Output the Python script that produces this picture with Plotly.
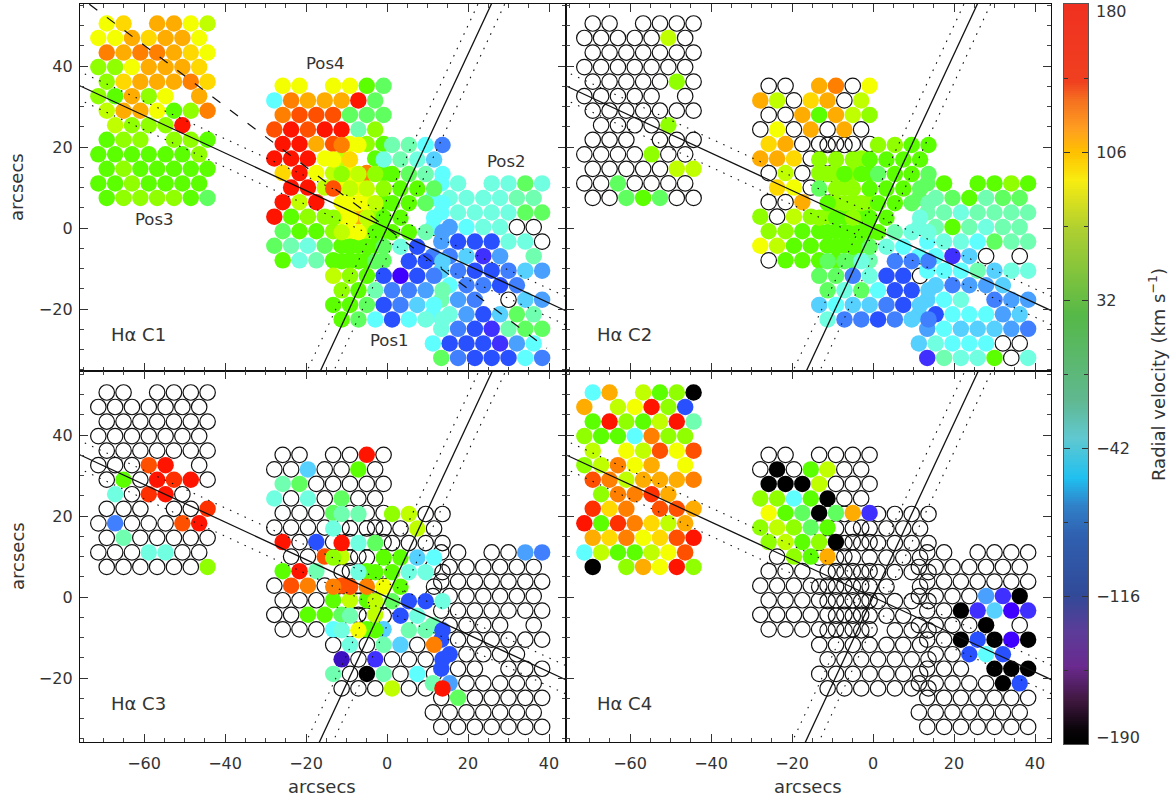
import plotly.graph_objects as go

# velocity classes (km/s)
VEL = dict(K=-190, p=-150, P=-140, V=-125, D=-105, b=-85, B=-70, c=-55, C=-38, m=-20, M=0,
           g=18, G=42, l=65, L=82, y=100, Y=108, A=120, o=135, O=150, r=160, R=172)

OPEN = ["......", ".......", ".......", ".......", ".......", "......", ".......",
        ".....", "......", ".......", ".......", ".......", "......."]

C1_POS3 = ["yYAAyL", "yyAYAAy", "oAooAYy", "llyAAAY", "lYAAAoY", "lGAlyA", "LAAyGlo",
           "LlllR", "GllllG", "GGGGGGl", "GlGGGGG", "GGlGGGG", "GllllGg"]
C1_POS4 = ["yyyyGg", "CoAAARg", "oOOOggg", "ORORRMl", "RRAOylG", "RRRyLG", "YRyLyoG",
           "RRLyy", "RLRyyG", "RGllyAl", "gGGlyLG", "gMmgGGG", "GmMGGGg"]
C1_POS2 = ["Cmmmgm", "CmmmmMM", "Cmmmmgg", "CBCmm..", "BDDDmm.", "bbcVBM", "cbDDbcB",
           "CbbDb", "MBb.cB", "CmBDcgM", "mbDVMgg", "CDDDVBC", "gbDDDCb"]
C1_POS1 = ["oyMMCb", "yY_mMmc", "lLlGgMC", "OLLlGGg", "yyLGGgC", "lyLGGC", "LyGGGMB",
           "GGgmD", "GGgDDc", "LlGDPDb", "lGMbbBM", "GGgDbcC", "GgCDCmm"]

C2_POS3 = ["......", ".....L.", ".......", ".......", ".....l.", "......", ".......",
           "....l", "......", "....l..", ".....LL", "..g....", "..gGg.."]
C2_POS4 = ["..Ao.y", "AL.YA.L", "..AGALl", ".y.A.A.", "YA.....", "AAY..l", ".L.lllG",
           "Yy..l", "..Alll", "l.LllGG", "llGGGGG", "yLGGGGG", ".GGGGgM"]
C2_POS2 = ["gGGGlG", "gMgGMgg", "MMmMMMM", "mMGMmMM", "CmmCgMM", "CCVc..", "CCCMcmm",
           "cbBBc", "cCmbBB", "cDCCCBc", "BCcccBb", "cmCCC..", "VMmmG.m"]
C2_POS1 = ["..llGG", "lllGGGG", "lGGgGGg", "gllGGGg", "GllGGgM", "lGlGGm", "GGGGMmm",
           "GGgmC", "ggmbbb", "ggbmDD.", "gmgCDDc", "cCccbDc", "mbbDbcb"]

C3_POS3 = ["......", ".......", ".......", ".......", ".......", "...OR.", ".G.RrR.",
           "m.rR.", ".....r", ".b...OR", ".M.....", "...mm..", "......l"]
C3_POS4 = ["....R.", "..c..G.", "Mg.....", "m.m.g..", "...g...", "......", "R.D....",
           "..OL.", "GRM.G.", ".Oo.O..", "...GLG.", "..GGg.L", "...C.Gc"]
C3_POS2 = ["....Bb", ".......", ".......", ".......", ".......", "M.....", "D......",
           "D....", "D.....", "MB.....", ".g.....", ".......", "......."]
C3_POS1 = ["MMlL..", "m....L.", "Rmg....", "l..GGcC", ".mGGmm.", "oOoyG.", "..LgDDm",
           "M..Dm", "myGMMD", ".m.Mc.o", "p.V...D", "M.KM.C.", "...L..R"]

C4_POS3 = ["CALGlK", "A_LyRlD", "GRlGLRM", "lGGColl", "L_yLOyO", "lLoyAy", "OoLAAAo",
           "loorA", "rYoOOA", "RGroYLA", "AYoyYOR", "CLGGLyO", "K_lAyRl"]
C4_POS4 = ["......", ".K.GL..", "KKKL...", "llCGK..", "yGgKgAV", "lLlgG.", "lLGlK..",
           ".lGA.", "......", ".......", ".......", ".......", "......."]
C4_POS2 = ["......", ".......", ".......", "....BVK", "..KVcPV", "....K.", "..KDKPK",
           "..DCD", "...KKK", ".....KD", ".......", ".......", "......."]
C4_POS1 = OPEN

PANELS = [("C1", C1_POS3, C1_POS4, C1_POS2, C1_POS1),
          ("C2", C2_POS3, C2_POS4, C2_POS2, C2_POS1),
          ("C3", C3_POS3, C3_POS4, C3_POS2, C3_POS1),
          ("C4", C4_POS3, C4_POS4, C4_POS2, C4_POS1)]

# instrument: fibre offsets (in units of the fibre pitch) for each of the 13 rows
FULL_A = [0, 1, 2, 3, 4, 5, 6]
FULL_B = [-.5, .5, 1.5, 2.5, 3.5, 4.5, 5.5]
ROW_COLS = [[0, 1, 3, 4, 5, 6], FULL_B, FULL_A, FULL_B, FULL_A,
            [-.5, .5, 1.5, 2.5, 3.5, 5.5], FULL_A, [.5, 1.5, 2.5, 3.5, 4.5],
            [0, 1, 2, 4, 5, 6], FULL_B, FULL_A, FULL_B, FULL_A]
PITCH_X, PITCH_Y = 4.15, 3.59
# pointing origins in arcsec, order as in the panel tuples (Pos3, Pos4, Pos2, Pos1)
ORIGINS = [(-69.2, 50.5), (-25.75, 35.1), (13.4, 11.0), (-11.2, 20.5)]

XTICKS = [-60, -40, -20, 0, 20, 40]
XLABELS = ["\u221260", "\u221240", "\u221220", "0", "20", "40"]
YTICKS = [-20, 0, 20, 40]
YLABELS = ["\u221220", "0", "20", "40"]
CBAR_TICKS = [106, 32, -42, -116]
CBAR_LABELS = ["106", "32", "\u221242", "\u2212116"]
VMIN, VMAX = -190, 180

# slit / axis lines through the nucleus
SLOPE_A, OFF_A = 2.146, 3.3      # steep line, dotted horizontal offset
SLOPE_B, OFF_B = -0.463, 3.5     # shallow line, dotted vertical offset
SLOPE_C = -0.752                 # dashed line, first panel only
DASHED_X = [-73.5, 39.5]

BRIGHT = [(-190, "#000000"), (-150, "#3a10c0"), (-140, "#4000ff"), (-125, "#4030ff"), (-105, "#2850ff"),
          (-85, "#4080ff"), (-70, "#4aa0ff"), (-55, "#55d0ff"), (-38, "#60ffff"), (-20, "#70ffe0"),
          (0, "#70ffb0"), (18, "#60ff60"), (42, "#5cff00"), (65, "#90ff00"), (82, "#c0ff00"),
          (100, "#f4ff00"), (108, "#ffd800"), (120, "#ffac00"), (135, "#ff8000"), (150, "#ff5000"),
          (160, "#ff3000"), (172, "#ff1400"), (180, "#ff1400")]
MUTED = [(-190, "#000000"), (-183, "#080408"), (-168, "#401840"), (-151, "#6a2a90"), (-134, "#5c3c98"),
         (-115, "#304a98"), (-86, "#3060b0"), (-71, "#3080c8"), (-57, "#20c0f0"), (-37, "#60c8d0"),
         (-18, "#60b890"), (24, "#55b848"), (68, "#b0d030"), (92, "#f8ec10"), (106, "#ffc000"),
         (117, "#ffa020"), (132, "#f57020"), (141, "#f04020"), (180, "#f03020")]


def scale(stops):
    return [[(v - VMIN) / (VMAX - VMIN), c] for v, c in stops]


W, H = 1175, 802
FONT = dict(family="DejaVu Sans, Open Sans, sans-serif", size=16, color="#333333")
FONT_TITLE = dict(FONT, size=18)
fig = go.Figure()

COLS = [(80, 566, 387), (566, 1051, 873)]
ROWS = [(4, 371, 228), (371, 742, 597)]
PX = 4.05
layout = {}
ann = []

for idx, (name, *pointings) in enumerate(PANELS):
    cl, cr, x0 = COLS[idx % 2]
    rt, rb, y0 = ROWS[idx // 2]
    xa, ya = f"x{idx + 1}", f"y{idx + 1}"
    base = dict(showgrid=False, zeroline=False, showline=True, linecolor="#111111", linewidth=1.4,
                mirror="allticks", ticks="inside", ticklen=8, tickwidth=1, tickcolor="#333333",
                minor=dict(dtick=5, ticks="inside", ticklen=4, tickwidth=1, tickcolor="#444444",
                           showgrid=False, tick0=0),
                tickfont=FONT)
    layout[f"xaxis{idx + 1}"] = dict(base, domain=[cl / W, cr / W], range=[(cl - x0) / PX, (cr - x0) / PX],
                                     anchor=ya, tickmode="array", tickvals=XTICKS, ticklabelstandoff=7,
                                     ticktext=XLABELS, showticklabels=idx >= 2)
    layout[f"yaxis{idx + 1}"] = dict(base, domain=[1 - rb / H, 1 - rt / H], range=[(y0 - rb) / PX, (y0 - rt) / PX],
                                     anchor=xa, tickmode="array", tickvals=YTICKS, ticklabelstandoff=3,
                                     ticktext=YLABELS, showticklabels=idx % 2 == 0)
    filled_traces = []
    for codes, (ox, oy) in zip(pointings, ORIGINS):
        ox_list, oy_list, fx, fy, fv = [], [], [], [], []
        for r, (row, cols) in enumerate(zip(codes, ROW_COLS)):
            assert len(row) == len(cols), (name, r, row)
            for ch, k in zip(row, cols):
                px_, py_ = ox + k * PITCH_X, oy - r * PITCH_Y
                if ch == ".":
                    ox_list.append(px_); oy_list.append(py_)
                elif ch != "_":
                    fx.append(px_); fy.append(py_); fv.append(VEL[ch])
        fig.add_trace(go.Scatter(x=ox_list, y=oy_list, xaxis=xa, yaxis=ya, mode="markers", showlegend=False,
                                 hoverinfo="skip",
                                 marker=dict(symbol="circle-open", size=15.5, color="#111111",
                                             line=dict(width=1.2, color="#111111"))))
        filled_traces.append(go.Scatter(x=fx, y=fy, xaxis=xa, yaxis=ya, mode="markers", showlegend=False,
                                        marker=dict(size=16.5, color=fv, cmin=VMIN, cmax=VMAX,
                                                    colorscale=scale(BRIGHT), line=dict(width=0))))
    for tr in filled_traces:
        fig.add_trace(tr)
    xl = [-80.0, 50.0]
    steep_y = [-40.0, 60.0]
    for off, dash, w in ((0, "solid", 1.3), (OFF_A, "1.5px,6.5px", 1.1), (-OFF_A, "1.5px,6.5px", 1.1)):
        fig.add_trace(go.Scatter(x=[v / SLOPE_A + off for v in steep_y], y=steep_y, xaxis=xa, yaxis=ya,
                                 mode="lines", showlegend=False, hoverinfo="skip",
                                 line=dict(color="#111111", width=w, dash=dash)))
    for off, dash, w in ((0, "solid", 1.3), (OFF_B, "1.5px,6.5px", 1.1), (-OFF_B, "1.5px,6.5px", 1.1)):
        fig.add_trace(go.Scatter(x=xl, y=[SLOPE_B * v + off for v in xl], xaxis=xa, yaxis=ya,
                                 mode="lines", showlegend=False, hoverinfo="skip",
                                 line=dict(color="#111111", width=w, dash=dash)))
    if idx == 0:
        fig.add_trace(go.Scatter(x=DASHED_X, y=[SLOPE_C * v for v in DASHED_X], xaxis=xa, yaxis=ya,
                                 mode="lines", showlegend=False, hoverinfo="skip",
                                 line=dict(color="#111111", width=1.2, dash="10px,12px")))
    ann.append(dict(x=-68.6, y=-26.4, xref=xa, yref=ya, text=f"H\u03b1 {name}", showarrow=False,
                    xanchor="left", font=FONT_TITLE))

POS_LABELS = [("Pos3", -57.3, 2.2), ("Pos4", -15.3, 40.5), ("Pos2", 29.6, 16.3), ("Pos1", 0.7, -27.7)]
for t, x, y in POS_LABELS:
    ann.append(dict(x=x, y=y, xref="x1", yref="y1", text=t, showarrow=False, font=dict(FONT, size=16.5)))

for px_, py_, t, ang in ((17, 187, "arcsecs", -90), (17, 556, "arcsecs", -90),
                         (322, 786, "arcsecs", 0), (808, 786, "arcsecs", 0),
                         (1157, 375, "Radial velocity (km s<sup>\u22121</sup>)", -90)):
    ann.append(dict(x=px_ / W, y=1 - py_ / H, xref="paper", yref="paper", text=t, textangle=ang,
                    xanchor="center", yanchor="middle", showarrow=False, font=FONT_TITLE))

# colour bar on its own axes
levels = list(range(VMIN, VMAX + 1))
fig.add_trace(go.Heatmap(x=[0, 1], y=levels, z=[[v, v] for v in levels], xaxis="x5", yaxis="y5",
                         colorscale=scale(MUTED), zmin=VMIN, zmax=VMAX, showscale=False, hoverinfo="skip"))
layout["xaxis5"] = dict(domain=[1064 / W, 1088 / W], range=[0, 1], anchor="y5", showgrid=False, zeroline=False,
                        showticklabels=False, ticks="", showline=True, mirror=True, linecolor="#555555", linewidth=1)
layout["yaxis5"] = dict(domain=[1 - 744 / H, 1 - 4 / H], range=[VMIN, VMAX], anchor="x5", side="right",
                        showgrid=False, zeroline=False, showline=True, mirror="allticks", linecolor="#555555",
                        linewidth=1, ticks="inside", ticklen=6, tickwidth=1, tickcolor="#333333",
                        tickmode="array", tickvals=CBAR_TICKS, ticktext=CBAR_LABELS, tickfont=FONT,
                        ticklabelstandoff=4,
                        minor=dict(tickmode="array", tickvals=[143, 69, -5, -79, -153], ticks="inside",
                                   ticklen=4, tickwidth=1, tickcolor="#333333", showgrid=False))
ann.append(dict(x=1094 / W, y=180, xref="paper", yref="y5", text="180", showarrow=False, xanchor="left",
                yanchor="middle", yshift=-7, font=FONT))
ann.append(dict(x=1094 / W, y=-190, xref="paper", yref="y5", text="\u2212190", showarrow=False, xanchor="left",
                yanchor="middle", yshift=7, font=FONT))

fig.update_layout(width=W, height=H, margin=dict(l=0, r=0, t=0, b=0), paper_bgcolor="white",
                  plot_bgcolor="white", annotations=ann, showlegend=False, **layout)
fig.write_html("out.html", config=dict(displayModeBar=False), post_script="document.body.style.margin='0';")
